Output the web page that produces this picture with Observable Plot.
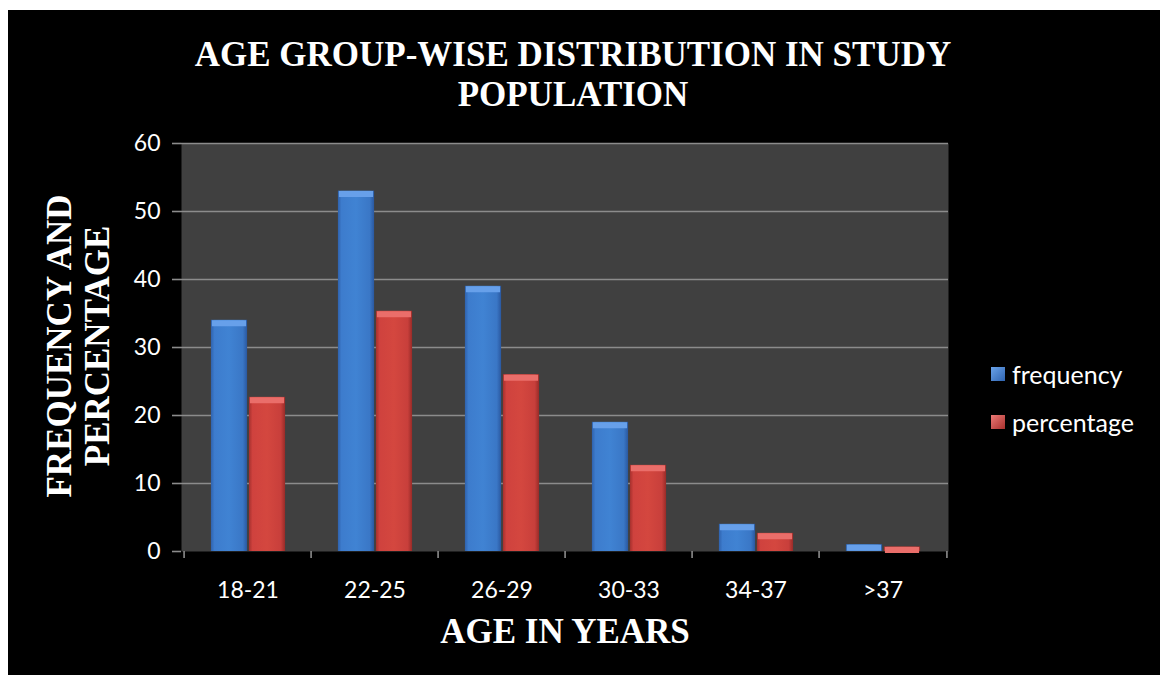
<!DOCTYPE html>
<html>
<head>
<meta charset="utf-8">
<script src="https://cdn.jsdelivr.net/npm/d3@7"></script>
<script src="https://cdn.jsdelivr.net/npm/@observablehq/plot@0.6"></script>
<style>
  html, body { margin: 0; padding: 0; background: #ffffff; }
  #panel { position: absolute; left: 8px; top: 10px; width: 1152px; height: 665px; background: #000; overflow: hidden; }
  .serif { font-family: "Liberation Serif", "Times New Roman", serif; font-weight: bold; color: #fff; }
  #title { position: absolute; left: 0; top: 0; width: 1130px; height: 108px; padding-top: 25px; box-sizing: border-box;
           text-align: center; font-size: 35px; line-height: 40px; }
  #ytitle { position: absolute; width: 420px; height: 80px; left: -137px; top: 296px; transform: rotate(-90deg);
            text-align: center; font-size: 35px; line-height: 38px; }
  #xtitle { position: absolute; left: 357px; width: 400px; top: 604px; text-align: center; font-size: 35px; line-height: 36px; }
  #chart { position: absolute; left: 0; top: 108px; }
  .legend { position: absolute; left: 983px; font-family: Lato, "Open Sans", sans-serif; font-size: 25px; color: #fff;
            display: flex; align-items: center; }
  .swatch { width: 14px; height: 14px; margin-right: 7px; }
</style>
</head>
<body>
<div id="panel">
  <div id="title" class="serif">AGE GROUP-WISE DISTRIBUTION IN STUDY<br>POPULATION</div>
  <div id="ytitle" class="serif">FREQUENCY AND<br>PERCENTAGE</div>
  <div id="xtitle" class="serif">AGE IN YEARS</div>
  <div id="chart"></div>
  <div class="legend" style="top: 349px;"><div class="swatch" style="background: linear-gradient(135deg,#6aa3ea,#2f64b0);"></div>frequency</div>
  <div class="legend" style="top: 397px;"><div class="swatch" style="background: linear-gradient(135deg,#ec7a76,#a8302d);"></div>percentage</div>
</div>
<script>
// Age groups and their counts / shares of the study population (n = 150)
const categories = ["18-21", "22-25", "26-29", "30-33", "34-37", ">37"];
const frequency = [34, 53, 39, 19, 4, 1];
const percentage = [22.67, 35.33, 26, 12.67, 2.67, 0.67];
const yTicks = [0, 10, 20, 30, 40, 50, 60];

const freqRows = categories.map((c, i) => ({group: c, value: frequency[i]}));
const pctRows = categories.map((c, i) => ({group: c, value: percentage[i]}));

const width = 1152, height = 557;
const marginLeft = 173, marginRight = 212, marginTop = 25, marginBottom = 124;
const step = (width - marginLeft - marginRight) / categories.length;
const barW = 37;

const gridColor = "#8c8c8c";

// horizontal shading gradients for the bars and their top bevels
function defs() {
  const ns = "http://www.w3.org/2000/svg";
  const d = document.createElementNS(ns, "defs");
  const make = (id, stops) => {
    const g = document.createElementNS(ns, "linearGradient");
    g.setAttribute("id", id);
    g.setAttribute("x1", "0"); g.setAttribute("x2", "1");
    g.setAttribute("y1", "0"); g.setAttribute("y2", "0");
    for (const [o, c] of stops) {
      const s = document.createElementNS(ns, "stop");
      s.setAttribute("offset", o); s.setAttribute("stop-color", c);
      g.appendChild(s);
    }
    d.appendChild(g);
  };
  make("gradBlue", [[0, "#2f62ad"], [0.1, "#3d7ccd"], [0.5, "#4083d3"], [0.88, "#3a77c6"], [1, "#2a58a0"]]);
  make("gradRed", [[0, "#a5302d"], [0.1, "#cf423e"], [0.5, "#d4473f"], [0.88, "#c83f3b"], [1, "#982b28"]]);
  return d;
}

const blueInsets = {insetLeft: step / 2 - barW, insetRight: step / 2};
const redInsets = {insetLeft: step / 2 + 1, insetRight: step / 2 - barW - 1};

const chart = Plot.plot({
  width, height, marginLeft, marginRight, marginTop, marginBottom,
  style: {background: "transparent", color: "#fff", fontFamily: "Lato, 'Open Sans', sans-serif", fontSize: "23px"},
  x: {domain: categories, padding: 0, label: null},
  y: {domain: [0, 60], label: null},
  marks: [
    defs,
    Plot.frame({fill: "#404040", stroke: null}),
    Plot.gridY(yTicks.slice(1), {stroke: gridColor, strokeOpacity: 1, strokeWidth: 1.6}),
    Plot.barY(freqRows, {x: "group", y: "value", fill: "url(#gradBlue)", ...blueInsets}),
    Plot.barY(pctRows, {x: "group", y: "value", fill: "url(#gradRed)", ...redInsets}),
    // lighter bevel across the top of each bar
    Plot.tickY(freqRows, {x: "group", y: "value", stroke: "#67a0ea", strokeWidth: 6, dy: 3, insetLeft: step / 2 - barW + 1, insetRight: step / 2 + 1}),
    Plot.tickY(pctRows, {x: "group", y: "value", stroke: "#ea6e6a", strokeWidth: 6, dy: 3, insetLeft: step / 2 + 2, insetRight: step / 2 - barW}),
    Plot.axisY({ticks: yTicks, tickSize: 9, tickPadding: 12, stroke: gridColor, strokeWidth: 1.6, line: true, fill: "#fff"}),
    Plot.axisX({tickSize: 0, tickPadding: 30, fill: "#fff"}),
    Plot.axisX({text: null, tickSize: 7, dx: -step / 2, stroke: gridColor, strokeWidth: 1.6, line: true}),
    Plot.axisX({ticks: [categories[categories.length - 1]], text: null, tickSize: 7, dx: step / 2, stroke: gridColor, strokeWidth: 1.6})
  ]
});
document.getElementById("chart").appendChild(chart);
</script>
</body>
</html>
